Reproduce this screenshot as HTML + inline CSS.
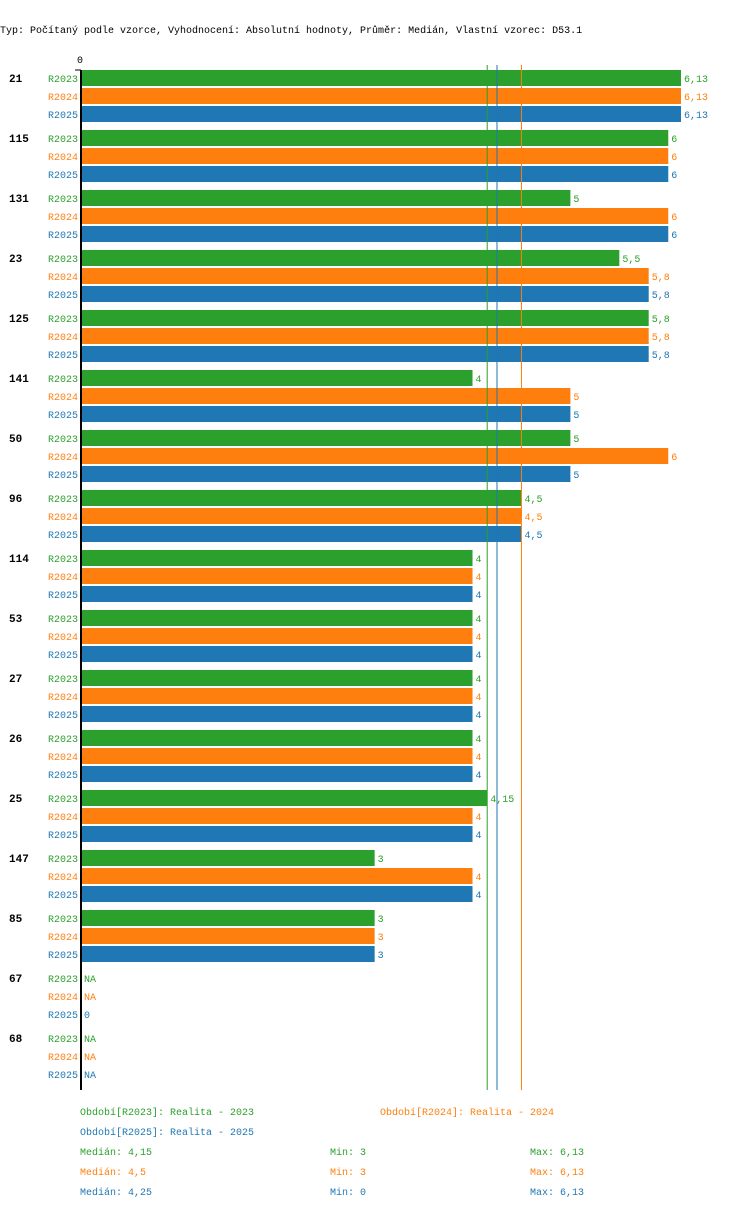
<!DOCTYPE html>
<html><head><meta charset="utf-8"><style>
body{margin:0;background:#fff}
svg{display:block;font-family:"Liberation Mono",monospace;font-size:10px}
</style></head><body>
<svg id="c" width="750" height="1210">
<text x="0" y="33" fill="#000">Typ: Počítaný podle vzorce, Vyhodnocení: Absolutní hodnoty, Průměr: Medián, Vlastní vzorec: D53.1</text>
</svg>
<script>
const categories=["21","115","131","23","125","141","50","96","114","53","27","26","25","147","85","67","68"];
const series=["R2023","R2024","R2025"];
const v2023=[6.13,6,5,5.5,5.8,4,5,4.5,4,4,4,4,4.15,3,3,null,null];
const v2024=[6.13,6,6,5.8,5.8,5,6,4.5,4,4,4,4,4,4,3,null,null];
const v2025=[6.13,6,6,5.8,5.8,5,5,4.5,4,4,4,4,4,4,3,0,null];
const medians=[4.15,4.5,4.25];
const mins=[3,3,0];
const maxs=[6.13,6.13,6.13];
const colors=["#2ca02c","#ff7f0e","#1f77b4"];
const vals=[v2023,v2024,v2025];
const NS="http://www.w3.org/2000/svg";
const svg=document.getElementById('c');
const x0=81,scale=600/6.13;
const xs=v=>x0+v*scale;
const fmt=v=>String(v).replace('.',',');
function el(t,a,txt){const e=document.createElementNS(NS,t);for(const k in a)e.setAttribute(k,a[k]);if(txt!=null)e.textContent=txt;svg.appendChild(e);return e;}
categories.forEach((c,i)=>{
  const gy=70+i*60;
  const t=el('text',{x:9,y:gy+12,'font-weight':'bold','font-size':'11px',fill:'#000'},c);
  
  
  series.forEach((s,j)=>{
    const y=gy+j*18;
    const l=el('text',{x:78,y:y+12,'text-anchor':'end',fill:colors[j]},s);
    
    
    const v=vals[j][i];
    if(v!=null){
      const r=el('rect',{x:x0,y:y,width:xs(v)-x0,height:16,fill:colors[j]});
      
      
    }
    const vt=el('text',{x:(v!=null?xs(v):x0)+3,y:y+12,fill:colors[j]},v==null?'NA':fmt(v));
    
    
  });
});
const ax=el('line',{x1:x0,y1:70,x2:x0,y2:1090,stroke:'#000','stroke-width':2});


const tk=el('line',{x1:x0-6,y1:70,x2:x0,y2:70,stroke:'#000','stroke-width':1});


const z=el('text',{x:x0-1,y:63,'text-anchor':'middle',fill:'#000'},'0');


medians.forEach((m,j)=>{
  const ml=el('line',{x1:xs(m),y1:65,x2:xs(m),y2:1090,stroke:colors[j],'stroke-width':1});
  
  
});
const leg=[["Období[R2023]: Realita - 2023",80,1115,0],["Období[R2024]: Realita - 2024",380,1115,1],["Období[R2025]: Realita - 2025",80,1135,2]];
leg.forEach(([t,x,y,j])=>{
  const e=el('text',{x:x,y:y,fill:colors[j]},t);
  
  
});
series.forEach((s,j)=>{
  const y=1155+j*20;
  const a=el('text',{x:80,y:y,fill:colors[j]},'Medián: '+fmt(medians[j]));
  
  
  const b=el('text',{x:330,y:y,fill:colors[j]},'Min: '+fmt(mins[j]));
  
  
  const c=el('text',{x:530,y:y,fill:colors[j]},'Max: '+fmt(maxs[j]));
  
  
});
</script>
</body></html>
